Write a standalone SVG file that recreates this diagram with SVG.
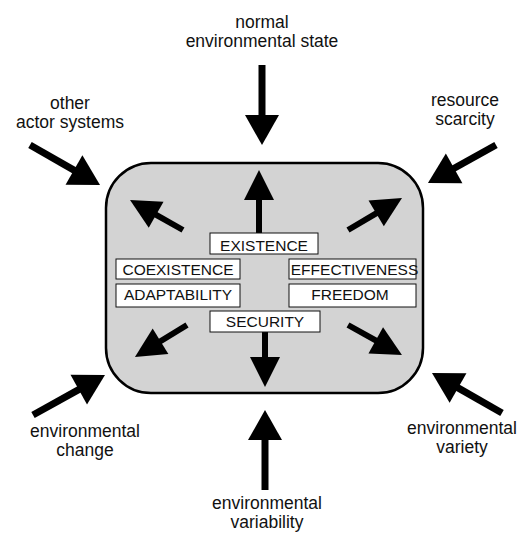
<svg xmlns="http://www.w3.org/2000/svg" width="522" height="533" viewBox="0 0 522 533">
<style>
.lbl{font-family:"Liberation Sans",Arial,sans-serif;font-size:17.5px;fill:#111;text-anchor:middle}
.box{fill:#fff;stroke:#111;stroke-width:1}
.bt{font-family:"Liberation Sans",Arial,sans-serif;font-size:15.5px;fill:#111;text-anchor:middle}
.oa{stroke:#000;stroke-width:7;fill:none;marker-end:url(#ho)}
.ia{stroke:#000;stroke-width:6;fill:none;marker-end:url(#hi)}
</style>
<defs>
<marker id="ho" markerUnits="userSpaceOnUse" markerWidth="32" markerHeight="36" refX="2" refY="17" orient="auto" overflow="visible"><path d="M0,0 L30,17 L0,34 z" fill="#000"/></marker>
<marker id="hi" markerUnits="userSpaceOnUse" markerWidth="32" markerHeight="32" refX="2" refY="15" orient="auto" overflow="visible"><path d="M0,0 L30,15 L0,30 z" fill="#000"/></marker>
</defs>
<rect width="522" height="533" fill="#fff"/>
<g id="system">
<rect x="106" y="163" width="317" height="230" rx="45" ry="45" fill="#d3d3d3" stroke="#000" stroke-width="2.5"/>
</g>
<g id="connectors">
<line class="oa" x1="262" y1="65" x2="262" y2="117"/>
<line class="oa" x1="265" y1="490" x2="265" y2="438"/>
<line class="oa" x1="30" y1="145" x2="75.7" y2="171.1"/>
<line class="oa" x1="496" y1="145" x2="452.4" y2="169.3"/>
<line class="oa" x1="33" y1="415" x2="80.5" y2="388.6"/>
<line class="oa" x1="502" y1="413" x2="456.3" y2="386.9"/>
<line class="ia" x1="259" y1="233" x2="259" y2="198"/>
<line class="ia" x1="265" y1="332" x2="265" y2="359"/>
<line class="ia" x1="183" y1="230" x2="154.4" y2="213.8"/>
<line class="ia" x1="348" y1="230" x2="377.9" y2="212.3"/>
<line class="ia" x1="187" y1="325" x2="158.8" y2="342.3"/>
<line class="ia" x1="348" y1="325" x2="377.5" y2="341.4"/>
</g>
<g id="existence"><rect class="box" x="210" y="233" width="108" height="21"/><text class="bt" x="264" y="251">EXISTENCE</text></g>
<g id="coexistence"><rect class="box" x="116" y="259" width="124" height="20"/><text class="bt" x="178" y="275">COEXISTENCE</text></g>
<g id="adaptability"><rect class="box" x="116" y="284" width="124" height="23"/><text class="bt" x="178" y="300">ADAPTABILITY</text></g>
<g id="effectiveness"><rect class="box" x="289" y="259" width="127" height="20"/><text class="bt" x="354.5" y="275">EFFECTIVENESS</text></g>
<g id="freedom"><rect class="box" x="289" y="284" width="127" height="23"/><text class="bt" x="350" y="300">FREEDOM</text></g>
<g id="security"><rect class="box" x="210" y="311" width="110" height="21"/><text class="bt" x="265" y="327">SECURITY</text></g>
<g id="normal-state"><text class="lbl" x="262" y="28">normal</text><text class="lbl" x="262" y="47">environmental state</text></g>
<g id="other-actors"><text class="lbl" x="70" y="109">other</text><text class="lbl" x="70" y="128">actor systems</text></g>
<g id="resource-scarcity"><text class="lbl" x="465" y="106">resource</text><text class="lbl" x="465" y="125">scarcity</text></g>
<g id="env-change"><text class="lbl" x="85" y="437">environmental</text><text class="lbl" x="85" y="456">change</text></g>
<g id="env-variety"><text class="lbl" x="462" y="434">environmental</text><text class="lbl" x="462" y="453">variety</text></g>
<g id="env-variability"><text class="lbl" x="267" y="509">environmental</text><text class="lbl" x="267" y="528">variability</text></g>
</svg>
